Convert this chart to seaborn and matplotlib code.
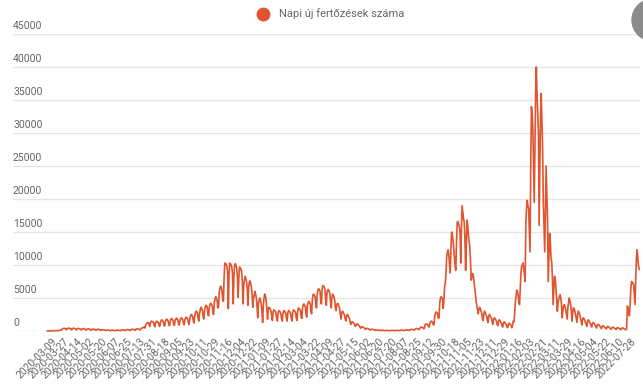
import numpy as np
import pandas as pd
import matplotlib.pyplot as plt
import matplotlib.transforms as mtransforms
from matplotlib.patches import Circle
from matplotlib.lines import Line2D
import seaborn as sns

series_name = 'Napi új fertőzések száma'

# every 18th category is labelled on the x axis
tick_labels = [
    '2020-03-09', '2020-03-27', '2020-04-14', '2020-05-02', '2020-05-20', '2020-06-07',
    '2020-06-25', '2020-07-13', '2020-07-31', '2020-08-18', '2020-09-05', '2020-09-23',
    '2020-10-11', '2020-10-29', '2020-11-16', '2020-12-04', '2020-12-22', '2021-01-09',
    '2021-01-27', '2021-02-14', '2021-03-04', '2021-03-22', '2021-04-09', '2021-04-27',
    '2021-05-15', '2021-06-02', '2021-06-20', '2021-07-20', '2021-08-07', '2021-08-25',
    '2021-09-12', '2021-09-30', '2021-10-18', '2021-11-05', '2021-11-23', '2021-12-11',
    '2021-12-29', '2022-01-16', '2022-02-03', '2022-02-21', '2022-03-11', '2022-03-29',
    '2022-04-16', '2022-05-04', '2022-05-22', '2022-06-10', '2022-07-28',
]
label_step = 18

y_ticks = [0, 5000, 10000, 15000, 20000, 25000, 30000, 35000, 40000, 45000]

# daily values, one row per 7 categories
daily_cases = [
    0, 2, 3, 4, 7, 9, 13,
    19, 30, 32, 39, 50, 58, 73,
    30, 45, 60, 80, 100, 120, 140,
    160, 320, 380, 410, 360, 390, 300,
    180, 350, 420, 450, 400, 380, 290,
    170, 330, 400, 430, 390, 360, 280,
    150, 300, 380, 400, 350, 330, 250,
    140, 280, 350, 370, 330, 310, 230,
    120, 250, 310, 330, 300, 280, 200,
    100, 220, 280, 300, 260, 240, 180,
    90, 200, 250, 270, 240, 220, 160,
    70, 150, 180, 200, 170, 160, 110,
    50, 110, 140, 150, 130, 120, 80,
    40, 90, 110, 120, 100, 95, 60,
    40, 100, 130, 140, 120, 110, 70,
    50, 130, 160, 180, 150, 140, 90,
    60, 160, 200, 220, 190, 170, 110,
    80, 200, 250, 270, 240, 220, 150,
    100, 260, 310, 330, 300, 280, 190,
    150, 350, 420, 460, 500, 560, 600,
    450, 900, 1100, 1200, 1300, 1250, 900,
    700, 1300, 1500, 1450, 1400, 1350, 900,
    650, 1200, 1400, 1500, 1350, 1300, 850,
    700, 1300, 1600, 1700, 1550, 1400, 900,
    750, 1400, 1700, 1800, 1650, 1500, 950,
    800, 1500, 1800, 1900, 1750, 1600, 1000,
    850, 1550, 1850, 1950, 1800, 1650, 1050,
    900, 1600, 1900, 2000, 1850, 1700, 1100,
    950, 1700, 2000, 2100, 1950, 1800, 1200,
    1000, 1900, 2300, 2500, 2400, 2200, 1500,
    1200, 2300, 2800, 3000, 2900, 2700, 1800,
    1500, 2700, 3300, 3600, 3400, 3100, 2100,
    1800, 3000, 3600, 3900, 3800, 3500, 2400,
    2300, 3700, 4100, 4200, 4000, 3800, 2800,
    2500, 4300, 4900, 5200, 5000, 4600, 3500,
    3600, 5800, 6500, 6800, 6600, 6000, 4800,
    4500, 8200, 10300, 10200, 10100, 9800, 8800,
    3400, 8500, 10300, 10200, 10000, 9700, 8500,
    4100, 8300, 10000, 10200, 9900, 9500, 8200,
    5100, 8000, 9700, 9600, 9400, 9000, 7500,
    4100, 6800, 7700, 8300, 7900, 7500, 6500,
    3900, 6500, 7400, 7600, 7200, 6700, 5500,
    3600, 5000, 5400, 6000, 5600, 5000, 3800,
    2000, 4200, 4700, 5000, 4600, 4100, 3000,
    1300, 3800, 5000, 5600, 5300, 4700, 3400,
    1800, 3300, 3600, 3500, 3300, 3000, 2200,
    1600, 2900, 3200, 3100, 3000, 2700, 2000,
    1500, 2700, 3100, 3000, 2900, 2600, 1900,
    1500, 2600, 3000, 3100, 2900, 2700, 1900,
    1500, 2700, 3100, 3000, 2900, 2600, 1900,
    1500, 2800, 3200, 3100, 3000, 2800, 2000,
    1600, 3000, 3500, 3400, 3300, 3100, 2200,
    1900, 3500, 4000, 4100, 3900, 3700, 2600,
    2100, 3900, 4300, 4500, 4300, 4100, 3000,
    2600, 4700, 5500, 5600, 5400, 5200, 3900,
    3500, 5600, 6200, 6400, 6300, 6000, 4600,
    4100, 6300, 6900, 6800, 6700, 6300, 4900,
    3900, 5800, 6200, 6300, 6000, 5700, 4400,
    3500, 5000, 5600, 5400, 5100, 4700, 3500,
    3100, 4000, 4200, 4100, 3800, 3400, 2500,
    1800, 2800, 3000, 2900, 2600, 2400, 1800,
    1500, 2300, 2500, 2400, 2100, 1900, 1400,
    1000, 1300, 1400, 1300, 1200, 1100, 800,
    700, 1000, 1100, 1000, 900, 800, 600,
    400, 600, 650, 600, 550, 500, 350,
    250, 380, 400, 370, 340, 300, 200,
    150, 250, 260, 240, 220, 200, 130,
    90, 150, 160, 150, 140, 120, 80,
    60, 110, 120, 110, 100, 90, 60,
    50, 90, 100, 90, 80, 70, 50,
    40, 80, 90, 85, 80, 70, 50,
    40, 90, 100, 95, 90, 80, 60,
    50, 110, 130, 120, 110, 100, 70,
    70, 150, 170, 160, 150, 140, 90,
    100, 220, 250, 240, 220, 200, 140,
    150, 320, 380, 370, 340, 310, 220,
    250, 500, 580, 570, 530, 480, 340,
    400, 900, 1050, 1100, 1000, 950, 650,
    600, 1200, 1400, 1500, 1400, 1300, 900,
    1100, 2300, 2700, 2900, 2800, 2600, 1900,
    2000, 4200, 5000, 5200, 5100, 4800, 3400,
    4600, 6800, 7200, 9000, 11200, 12000, 12300,
    11500, 10000, 8800, 12500, 15000, 14500, 13800,
    12500, 11000, 9800, 9200, 13500, 16500, 16600,
    16200, 15800, 15000, 10300, 15500, 19000, 18000,
    17000, 16500, 14000, 9200, 13000, 16800, 16000,
    14500, 13500, 12700, 10500, 7700, 8200, 8700,
    8400, 7500, 6500, 5600, 4500, 3800, 3200,
    2600, 3300, 3600, 3400, 3000, 2700, 1900,
    1600, 2600, 3000, 2800, 2500, 2300, 1600,
    1300, 2200, 2500, 2300, 2100, 1900, 1300,
    1000, 1800, 2000, 1900, 1700, 1500, 1000,
    800, 1500, 1700, 1600, 1400, 1200, 800,
    600, 1200, 1400, 1300, 1100, 1000, 650,
    500, 1000, 1200, 1100, 950, 850, 500,
    900, 1500, 1400, 2500, 4400, 5200, 6200,
    6000, 5500, 4400, 4000, 6500, 8700, 9800,
    10000, 10300, 9500, 8500, 7500, 16500, 18500,
    19800, 19000, 18500, 15000, 12000, 25000, 34000,
    33000, 31000, 25000, 19500, 28000, 36000, 40000,
    36000, 33000, 30000, 16000, 24000, 33000, 36000,
    32000, 27500, 19500, 16000, 12000, 18000, 25000,
    21000, 17000, 7500, 11000, 14800, 13500, 11000,
    10500, 8000, 4000, 6000, 8300, 8000, 6500,
    5000, 3000, 4200, 4800, 5200, 5500, 5000,
    4000, 2000, 3200, 3800, 4000, 3700, 3200,
    2500, 1800, 3500, 4300, 5000, 4600, 4000,
    3000, 1500, 2800, 3500, 3400, 3000, 2500,
    1900, 1300, 2500, 3000, 2800, 2500, 2000,
    1500, 900, 1700, 2000, 1900, 1700, 1300,
    1100, 700, 1400, 1700, 1600, 1400, 1100,
    900, 600, 1100, 1300, 1200, 1100, 850,
    700, 450, 900, 1000, 950, 850, 650,
    550, 350, 700, 800, 750, 650, 500,
    450, 300, 600, 700, 650, 550, 420,
    380, 250, 500, 600, 550, 480, 350,
    320, 220, 450, 520, 480, 420, 300,
    280, 200, 400, 480, 430, 380, 270,
    250, 180, 300, 3800, 3500, 2800, 2300,
    4000, 6500, 7500, 7400, 7200, 7000, 5500,
    4000, 8000, 11000, 12300, 11000, 9800, 9300,
]

df = pd.DataFrame({'nap': np.arange(len(daily_cases)), series_name: daily_cases})

sns.set_style('white')
plt.rcParams['font.family'] = ['Roboto', 'DejaVu Sans']

line_color = '#e0552f'
text_color = '#666666'
grid_color = '#e6e6e6'

W, H = 643, 385
fig = plt.figure(figsize=(W / 100, H / 100), dpi=100)
ax = fig.add_axes([13 / W, (H - 331) / H, (640 - 13) / W, (331 - 34) / H])

sns.lineplot(data=df, x='nap', y=series_name, ax=ax, color=line_color,
             linewidth=1.2, clip_on=False, zorder=3)

ax.set_xlim(-48.6, 847.1)
ax.set_ylim(y_ticks[0], y_ticks[-1])
ax.set_axis_off()

# horizontal grid with the value written just above each line
ylab_tr = mtransforms.blended_transform_factory(ax.transAxes, ax.transData)
ylab_tr = ylab_tr + mtransforms.ScaledTranslation(0, 2 / 72, fig.dpi_scale_trans)
for v in y_ticks:
    ax.axhline(v, color=grid_color, linewidth=1, zorder=1)
    ax.text(0, v, str(v), transform=ylab_tr, ha='left', va='bottom',
            fontsize=7.5, color=text_color)

# rotated date labels
xlab_tr = mtransforms.blended_transform_factory(ax.transData, ax.transAxes)
xlab_tr = xlab_tr + mtransforms.ScaledTranslation(8 / 100, -9 / 100, fig.dpi_scale_trans)
for i, lab in enumerate(tick_labels):
    ax.text(i * label_step, 0, lab, transform=xlab_tr, rotation=45,
            rotation_mode='anchor', ha='right', va='center',
            fontsize=7.5, color=text_color)

handle = Line2D([], [], marker='o', linestyle='', color=line_color,
                markersize=9, label=series_name)
fig.legend(handles=[handle], loc='center', bbox_to_anchor=(0.51, 1 - 14 / H),
           frameon=False, fontsize=8, handletextpad=0.4, labelcolor=text_color)

# grey round button peeking in at the top right corner
fig.add_artist(Circle((653, H - 20), 21, color='#8c8c8c',
                      transform=mtransforms.IdentityTransform()))

fig.savefig('out.png', dpi=100)
